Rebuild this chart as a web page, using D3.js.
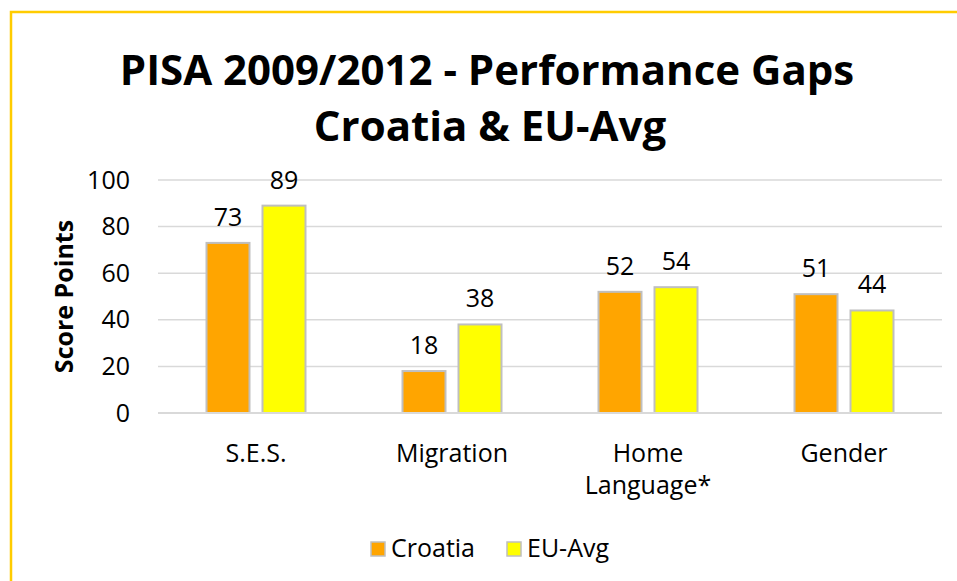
<html>
<head>
<meta charset="utf-8" />
<script src="https://cdn.jsdelivr.net/npm/d3@7"></script>
<style>
	body { margin: 0; background: #fff; }
	text { font-family: "Open Sans", "Noto Sans", sans-serif; fill: #000; }
</style>
</head>
<body>
<div id="chart"></div>
<script>

	// data
	var categories = ["S.E.S.", "Migration", "Home Language*", "Gender"];
	var series = ["Croatia", "EU-Avg"];
	var croatia = [73, 18, 52, 51];
	var euAvg = [89, 38, 54, 44];
	var yTicks = [0, 20, 40, 60, 80, 100];
	var colors = ["#FFA500", "#FFFF00"];

	var W = 957, H = 581;
	var plotL = 158, plotR = 942, plotT = 180, plotB = 413;

	var svg = d3.select("#chart").append("svg")
		.attr("width", W)
		.attr("height", H);

	// chart frame (only top and left edges are in view)
	svg.append("path")
		.attr("d", "M11,581 V12 H957")
		.attr("fill", "none")
		.attr("stroke", "#FFCC00")
		.attr("stroke-width", 2.5);

	// title
	var title = svg.append("text")
		.attr("text-anchor", "middle")
		.style("font-weight", "bold")
		.style("font-size", "42px");
	title.append("tspan").attr("x", 487).attr("y", 85).text("PISA 2009/2012 - Performance Gaps");
	title.append("tspan").attr("x", 490).attr("y", 141).text("Croatia & EU-Avg");

	var x = d3.scaleBand().domain(categories).range([plotL, plotR]);
	var y = d3.scaleLinear().domain([0, 100]).range([plotB, plotT]);

	// gridlines
	svg.append("g")
		.selectAll("line")
		.data(yTicks)
		.enter()
		.append("line")
		.attr("x1", plotL)
		.attr("x2", plotR)
		.attr("y1", function(d){ return y(d); })
		.attr("y2", function(d){ return y(d); })
		.style("stroke", "#D9D9D9")
		.style("stroke-width", 1.5);

	// y axis labels
	var yAxis = svg.append("g")
		.attr("transform", "translate(" + (plotL - 28) + ",0)")
		.call(d3.axisLeft(y).tickValues(yTicks).tickSize(0).tickPadding(0));
	yAxis.select(".domain").remove();
	yAxis.selectAll("text")
		.style("font-size", "25px")
		.style("font-family", "'Open Sans', sans-serif")
		.attr("fill", "#000");

	svg.append("text")
		.attr("transform", "translate(73," + ((plotT + plotB) / 2) + ") rotate(-90)")
		.attr("text-anchor", "middle")
		.style("font-weight", "bold")
		.style("font-size", "25px")
		.text("Score Points");

	// bars
	var barW = 43, gap = 13;
	var rows = [];
	categories.forEach(function(c, i){
		rows.push({ cat: c, s: 0, v: croatia[i] });
		rows.push({ cat: c, s: 1, v: euAvg[i] });
	});
	function barX(d){
		var cx = x(d.cat) + x.bandwidth() / 2;
		return d.s === 0 ? cx - gap / 2 - barW : cx + gap / 2;
	}

	svg.append("g")
		.selectAll("rect")
		.data(rows)
		.enter()
		.append("rect")
		.attr("x", barX)
		.attr("y", function(d){ return y(d.v); })
		.attr("width", barW)
		.attr("height", function(d){ return y(0) - y(d.v); })
		.attr("fill", function(d){ return colors[d.s]; })
		.attr("stroke", "#BFBFBF")
		.attr("stroke-width", 2);

	svg.append("g")
		.selectAll("text")
		.data(rows)
		.enter()
		.append("text")
		.attr("x", function(d){ return barX(d) + barW / 2; })
		.attr("y", function(d){ return y(d.v) - 17; })
		.attr("text-anchor", "middle")
		.style("font-size", "25px")
		.text(function(d){ return d.v; });

	// baseline
	svg.append("line")
		.attr("x1", plotL).attr("x2", plotR)
		.attr("y1", y(0)).attr("y2", y(0))
		.style("stroke", "#D9D9D9")
		.style("stroke-width", 2);

	// category labels
	var catLabels = svg.append("g")
		.selectAll("text")
		.data(categories)
		.enter()
		.append("text")
		.attr("text-anchor", "middle")
		.style("font-size", "25px");
	catLabels.each(function(c){
		var words = c === "Home Language*" ? ["Home", "Language*"] : [c];
		var t = d3.select(this);
		words.forEach(function(w, k){
			t.append("tspan")
				.attr("x", x(c) + x.bandwidth() / 2)
				.attr("y", 462 + k * 32)
				.text(w);
		});
	});

	// legend
	var legendX = [371, 507];
	var legend = svg.append("g")
		.selectAll("g")
		.data(series)
		.enter()
		.append("g")
		.attr("transform", function(d, i){ return "translate(" + legendX[i] + ",542)"; });
	legend.append("rect")
		.attr("width", 14).attr("height", 14)
		.attr("fill", function(d, i){ return colors[i]; })
		.attr("stroke", "#BFBFBF")
		.attr("stroke-width", 1.5);
	legend.append("text")
		.attr("x", 20)
		.attr("y", 15)
		.style("font-size", "25px")
		.text(function(d){ return d; });

</script>
</body>
</html>
